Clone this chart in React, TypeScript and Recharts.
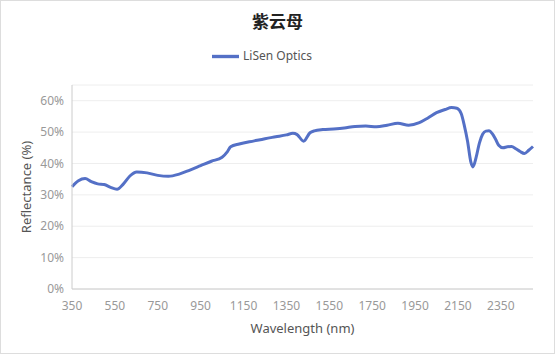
import { CartesianGrid, Legend, Line, LineChart, XAxis, YAxis } from "recharts";

const wavelengths = [
  350, 380, 411, 440, 470, 500, 530, 560, 590, 620, 652, 700, 750, 800, 850, 900, 950, 1000, 1050, 1075,
  1090, 1130, 1200, 1250, 1300, 1350, 1380, 1400, 1430, 1460, 1480, 1520, 1570, 1620, 1670, 1720, 1770,
  1820, 1870, 1920, 1970, 2010, 2050, 2090, 2120, 2145, 2165, 2180, 2195, 2210, 2220, 2235, 2250, 2265,
  2280, 2295, 2310, 2325, 2340, 2360, 2380, 2400, 2420, 2440, 2460, 2480, 2500,
];

const reflectance = [
  32.6, 34.5, 35.2, 34.2, 33.5, 33.3, 32.4, 31.8, 33.5, 36.0, 37.3, 37.0, 36.2, 35.9, 36.6, 37.9, 39.3,
  40.7, 42.0, 43.8, 45.3, 46.2, 47.2, 47.9, 48.5, 49.1, 49.6, 49.2, 47.1, 49.8, 50.4, 50.8, 51.0, 51.3,
  51.8, 51.9, 51.7, 52.2, 52.8, 52.2, 53.0, 54.5, 56.2, 57.2, 57.8, 57.6, 55.9, 52.0, 47.0, 40.5, 38.9,
  42.0, 46.5, 49.3, 50.3, 50.4, 49.5, 47.8, 45.8, 45.0, 45.3, 45.4, 44.7, 43.8, 43.2, 44.2, 45.4,
];

const xTicks = [350, 550, 750, 950, 1150, 1350, 1550, 1750, 1950, 2150, 2350];
const yTicks = [0, 10, 20, 30, 40, 50, 60];

const seriesName = "LiSen Optics";
const title = "紫云母";

const data = wavelengths.map((nm, i) => ({ nm, value: reflectance[i] }));

const font = '"Noto Sans", "Noto Sans CJK SC", sans-serif';
const lineColor = "#5470c6";

export default function App() {
  return (
    <div
      style={{
        position: "absolute",
        left: 0,
        top: 0,
        width: 553,
        height: 352,
        border: "1px solid #dddddd",
        background: "#fff",
        fontFamily: font,
      }}
    >
      <div
        style={{
          position: "absolute",
          top: 7,
          left: 0,
          width: "100%",
          textAlign: "center",
          fontFamily: '"Noto Sans CJK SC", sans-serif',
          fontWeight: 700,
          fontSize: 17,
          color: "#222",
          zIndex: 2,
        }}
      >
        {title}
      </div>
      <LineChart width={553} height={352} data={data} margin={{ top: 84, right: 21, bottom: 14, left: 0 }}>
        <CartesianGrid stroke="#eeeeee" vertical={false} />
        <XAxis
          dataKey="nm"
          type="number"
          domain={[350, 2500]}
          ticks={xTicks}
          height={50}
          tickLine={false}
          tickMargin={6}
          stroke="#cccccc"
          tick={{ fill: "#999", fontSize: 12, fontFamily: font }}
          label={{
            value: "Wavelength (nm)",
            position: "insideBottom",
            offset: 6,
            style: { fill: "#555", fontSize: 13, fontFamily: font },
          }}
        />
        <YAxis
          domain={[0, 65]}
          ticks={yTicks}
          width={71}
          tickLine={false}
          stroke="#cccccc"
          tickFormatter={(v) => `${v}%`}
          tick={{ fill: "#999", fontSize: 12, fontFamily: font }}
          label={{
            value: "Reflectance (%)",
            angle: -90,
            position: "insideLeft",
            offset: 25,
            style: { fill: "#555", fontSize: 13, fontFamily: font, textAnchor: "middle" },
          }}
        />
        <Legend
          verticalAlign="middle"
          align="center"
          iconType="plainline"
          iconSize={27}
          wrapperStyle={{ top: 42, fontSize: 12, fontFamily: font }}
          formatter={(v) => <span style={{ color: "#555" }}>{v}</span>}
        />
        <Line
          name={seriesName}
          dataKey="value"
          type="monotone"
          stroke={lineColor}
          strokeWidth={3}
          dot={false}
          isAnimationActive={false}
        />
      </LineChart>
    </div>
  );
}
